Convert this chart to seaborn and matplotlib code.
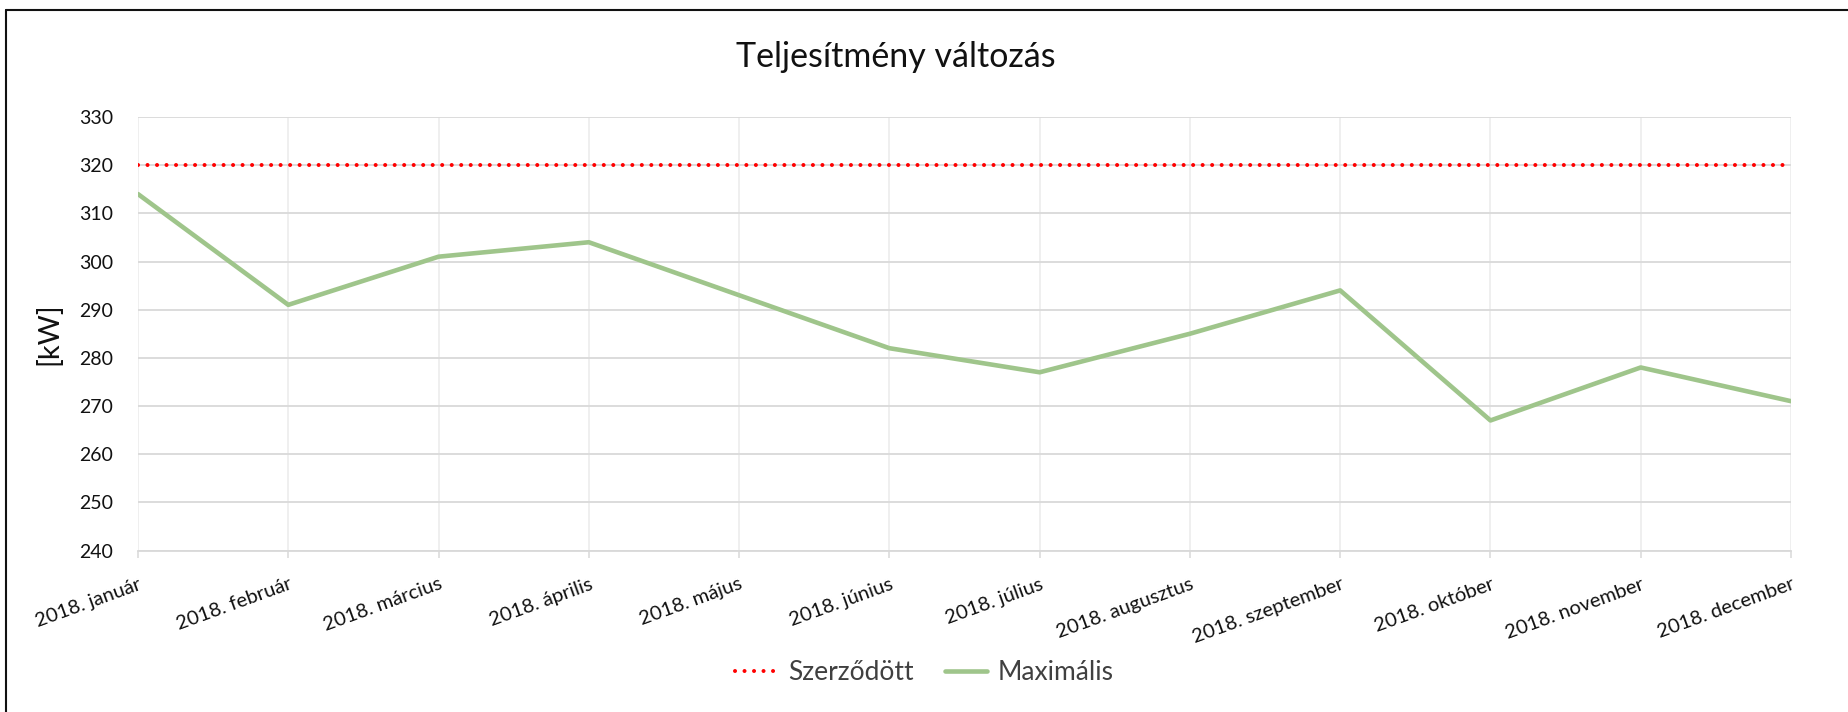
import numpy as np
import pandas as pd
import matplotlib
matplotlib.use('Agg')
import matplotlib.pyplot as plt
import seaborn as sns
from matplotlib.lines import Line2D

months = ['2018. január', '2018. február', '2018. március', '2018. április',
          '2018. május', '2018. június', '2018. július', '2018. augusztus',
          '2018. szeptember', '2018. október', '2018. november', '2018. december']
contracted = [320] * 12
maximum = [314, 291, 301, 304, 293, 282, 277, 285, 294, 267, 278, 271]
y_ticks = [240, 250, 260, 270, 280, 290, 300, 310, 320, 330]

dataset = pd.DataFrame({'month': months, 'Szerződött': contracted, 'Maximális': maximum})

sns.set_style('white')
plt.rcParams['font.family'] = ['Lato', 'DejaVu Sans']

fig = plt.figure(figsize=(18.49, 7.12), dpi=100)
ax = fig.add_axes([138 / 1849, 161.5 / 712, 1653 / 1849, 433.5 / 712])

#   Lines
sns.lineplot(data=dataset, x='month', y='Szerződött', ax=ax, sort=False,
             color='#ff0000', linewidth=2.9, label='Szerződött')
ax.lines[-1].set_linestyle((0, (0.01, 2.35)))
ax.lines[-1].set_dash_capstyle('round')
sns.lineplot(data=dataset, x='month', y='Maximális', ax=ax, sort=False,
             color='#9fc58b', linewidth=3.3, label='Maximális')

ax.set_xlim(0, len(months) - 1)
ax.set_ylim(240, 330)
ax.set_yticks(y_ticks)
ax.set_xticks(range(len(months)))
ax.set_xticklabels(months, rotation=20, ha='right', rotation_mode='anchor')

ax.grid(True, axis='y', color='#d9d9d9', linewidth=1.3)
ax.grid(True, axis='x', color='#ebebeb', linewidth=1.1)
for side in ['top', 'right', 'left']:
    ax.spines[side].set_visible(False)
ax.spines['bottom'].set_color('#d9d9d9')
ax.spines['bottom'].set_linewidth(1.3)

ax.tick_params(axis='y', length=0, pad=18, labelsize=14, labelcolor='#111111')
ax.tick_params(axis='x', bottom=True, length=5, width=1.1, color='#d9d9d9',
               pad=13, labelsize=14.5, labelcolor='#111111')

ax.set_xlabel('')
ax.set_ylabel('[kW]', fontsize=21, color='#111111', labelpad=12)

fig.suptitle('Teljesítmény változás', fontsize=24.5, color='#111111',
             x=896 / 1849, y=1 - 57 / 712, va='center')

ax.legend(loc='center', bbox_to_anchor=(0.5, 1 - 673 / 712), bbox_transform=fig.transFigure,
          ncol=2, frameon=False, fontsize=19, handlelength=1.6, handletextpad=0.42,
          columnspacing=1.17, labelcolor='#404040')

#   Chart border
fig.add_artist(Line2D([6 / 1849, 1], [1 - 10 / 712, 1 - 10 / 712], transform=fig.transFigure,
                      color='#111111', linewidth=1.5))
fig.add_artist(Line2D([6 / 1849, 6 / 1849], [0, 1 - 10 / 712], transform=fig.transFigure,
                      color='#111111', linewidth=1.5))

fig.savefig('out.png', dpi=100)
plt.close()
